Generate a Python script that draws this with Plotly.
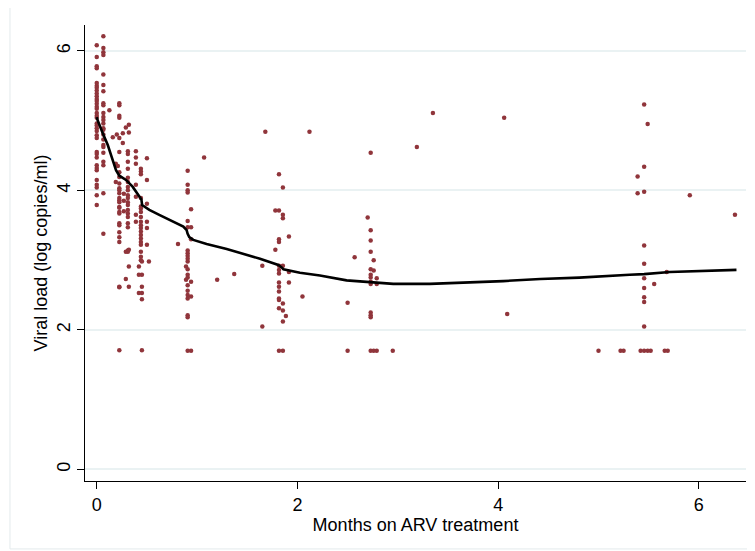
import plotly.graph_objects as go

# ---- scatter data (months, log10 viral load) ----
x_wk0 = [0.0] * 35
y_wk0 = [6.08, 5.91, 5.78, 5.75, 5.54, 5.50, 5.47, 5.43, 5.39, 5.35, 5.31, 5.28,
         5.24, 5.20, 5.17, 5.11, 5.07, 5.04, 4.96, 4.93, 4.89, 4.85, 4.79, 4.75,
         4.55, 4.52, 4.47, 4.36, 4.32, 4.29, 4.15, 4.08, 4.04, 3.93, 3.79]

x_day2 = [0.066] * 24
y_day2 = [6.21, 6.04, 5.98, 5.94, 5.66, 5.51, 5.42, 5.25, 5.22, 5.11, 5.05, 5.01,
          4.96, 4.89, 4.87, 4.80, 4.73, 4.65, 4.62, 4.54, 4.41, 4.36, 3.96, 3.38]

x_early = [0.126, 0.225, 0.225, 0.225, 0.225, 0.16, 0.20, 0.225, 0.26, 0.26, 0.29, 0.32, 0.32,
           0.19, 0.21, 0.19, 0.27, 0.27, 0.27]
y_early = [5.15, 5.25, 5.22, 5.07, 5.04, 4.76, 4.80, 4.75, 4.68, 4.82, 4.90, 4.94, 4.83,
           4.38, 4.35, 4.12, 3.95, 3.85, 3.70]

x_wk1 = [0.225] * 19
y_wk1 = [4.55, 4.26, 4.19, 4.10, 4.03, 4.00, 3.96, 3.89, 3.86, 3.83, 3.76, 3.75,
         3.69, 3.67, 3.53, 3.50, 3.40, 3.33, 3.26]

x_wk1b = [0.31] * 19
y_wk1b = [4.56, 4.52, 4.41, 4.31, 4.18, 4.12, 4.05, 4.00, 3.93, 3.89, 3.83, 3.79,
          3.72, 3.67, 3.62, 3.53, 3.47, 3.14, 3.12]

x_wk2a = [0.39] * 7
y_wk2a = [4.56, 4.47, 4.38, 4.08, 3.91, 3.65, 3.55]

x_wk2 = [0.44] * 19
y_wk2 = [4.31, 4.27, 4.23, 3.89, 3.77, 3.74, 3.69, 3.62, 3.55, 3.50, 3.46, 3.41,
         3.36, 3.31, 3.26, 3.22, 3.12, 3.05, 3.00]

x_wk2b = [0.50, 0.50, 0.50, 0.50, 0.50, 0.50]
y_wk2b = [4.46, 4.15, 3.81, 3.55, 3.46, 3.22]

x_low = [0.225, 0.225, 0.32, 0.29, 0.32, 0.42, 0.42, 0.45, 0.45, 0.42, 0.45, 0.45,
         0.45, 0.45, 0.52, 0.29, 0.32, 0.225]
y_low = [2.62, 1.71, 2.91, 2.73, 2.62, 2.91, 2.79, 2.79, 2.62, 2.53, 2.53, 2.44,
         1.71, 2.98, 2.98, 3.12, 3.15, 2.61]

x_m1 = [0.906, 0.906, 0.906, 0.906, 0.94, 0.906, 0.906, 0.94, 0.94, 0.81, 0.906,
        0.906, 0.906, 0.906, 0.906, 0.89, 0.906, 0.906, 0.906, 0.89, 0.94, 0.906,
        0.906, 0.906, 0.94, 0.906, 0.906, 0.906, 0.906, 0.94, 1.07, 1.20, 1.37]
y_m1 = [4.28, 4.08, 4.00, 3.97, 3.73, 3.56, 3.47, 3.47, 3.30, 3.23, 3.14, 3.10,
        3.06, 3.02, 2.98, 2.91, 2.87, 2.79, 2.75, 2.72, 2.69, 2.64, 2.56, 2.50,
        2.48, 2.45, 2.21, 2.18, 1.70, 1.70, 4.47, 2.72, 2.80]

x_m2 = [1.816, 1.855, 1.78, 1.816, 1.855, 1.855, 1.915, 1.816, 1.816, 1.78, 1.65,
        1.816, 1.855, 1.816, 1.816, 1.915, 1.915, 1.816, 1.816, 2.05, 1.816, 1.816,
        1.816, 1.855, 1.816, 1.855, 1.885, 1.855, 1.65, 1.816, 1.855, 1.68, 2.12]
y_m2 = [4.23, 4.04, 3.71, 3.71, 3.65, 3.60, 3.34, 3.30, 3.26, 3.15, 2.92,
        2.92, 2.92, 2.86, 2.81, 2.83, 2.68, 2.68, 2.62, 2.48, 2.55, 2.45,
        2.43, 2.38, 2.31, 2.28, 2.20, 2.12, 2.05, 1.70, 1.70, 4.84, 4.84]

x_m3 = [2.73, 3.19, 3.35, 4.06, 2.70, 2.73, 2.73, 2.73, 2.57, 2.76, 2.73, 2.76,
        2.73, 2.73, 2.79, 2.73, 2.73, 2.79, 2.50, 2.73, 2.73, 2.73, 4.09,
        2.50, 2.73, 2.76, 2.79, 2.95]
y_m3 = [4.54, 4.62, 5.11, 5.04, 3.61, 3.43, 3.28, 3.12, 3.04, 3.00, 2.87, 2.85,
        2.79, 2.75, 2.74, 2.69, 2.66, 2.66, 2.39, 2.25, 2.21, 2.18, 2.23,
        1.70, 1.70, 1.70, 1.70, 1.70]

x_m6 = [5.455, 5.49, 5.455, 5.39, 5.39, 5.455, 5.91, 6.36, 5.455, 5.455, 5.68,
        5.455, 5.555, 5.455, 5.455, 5.455, 5.455,
        5.00, 5.22, 5.25, 5.42, 5.455, 5.49, 5.52, 5.66, 5.69]
y_m6 = [5.23, 4.95, 4.34, 4.20, 3.96, 3.98, 3.93, 3.65, 3.21, 2.95, 2.83,
        2.74, 2.66, 2.60, 2.47, 2.40, 2.05,
        1.70, 1.70, 1.70, 1.70, 1.70, 1.70, 1.70, 1.70, 1.70]

# ---- smoothed (lowess) curve ----
smooth_x = [0.0, 0.01, 0.06, 0.11, 0.142, 0.192, 0.225, 0.292, 0.359, 0.424, 0.445,
            0.452, 0.524, 0.623, 0.69, 0.78, 0.863, 0.896, 0.905, 0.922, 0.962, 1.095,
            1.228, 1.295, 1.627, 1.81, 1.84, 1.86, 2.025, 2.224, 2.49, 2.72, 2.955,
            3.32, 3.72, 4.05, 4.42, 4.81, 5.31, 5.455, 5.71, 6.375]
smooth_y = [5.05, 5.0, 4.82, 4.65, 4.51, 4.29, 4.21, 4.15, 4.05, 3.91, 3.87,
            3.79, 3.72, 3.65, 3.60, 3.54, 3.48, 3.43, 3.38, 3.33, 3.29, 3.23,
            3.18, 3.16, 3.02, 2.93, 2.90, 2.87, 2.82, 2.78, 2.71, 2.68, 2.66,
            2.66, 2.68, 2.70, 2.73, 2.75, 2.79, 2.80, 2.83, 2.86]

x_ticks = [0, 2, 4, 6]
y_ticks = [0, 2, 4, 6]

all_x = (x_wk0 + x_day2 + x_early + x_wk1 + x_wk1b + x_wk2a + x_wk2 + x_wk2b + x_low
         + x_m1 + x_m2 + x_m3 + x_m6)
all_y = (y_wk0 + y_day2 + y_early + y_wk1 + y_wk1b + y_wk2a + y_wk2 + y_wk2b + y_low
         + y_m1 + y_m2 + y_m3 + y_m6)

FONT = "Liberation Sans, Arial, sans-serif"
MARKER = "#90353B"

fig = go.Figure()
fig.add_trace(go.Scatter(x=all_x, y=all_y, mode="markers",
                         marker=dict(color=MARKER, size=4.5, line=dict(width=0)),
                         showlegend=False, hoverinfo="x+y"))
fig.add_trace(go.Scatter(x=smooth_x, y=smooth_y, mode="lines",
                         line=dict(color="black", width=2.6),
                         showlegend=False))

# page body has an 8px margin: figure is 747x543 so the plot lands where the reference has it
fig.update_layout(
    width=747, height=543,
    margin=dict(l=77, r=9, t=17, b=70, autoexpand=False),
    paper_bgcolor="white", plot_bgcolor="white",
    font=dict(family=FONT, size=18, color="black"),
    xaxis=dict(range=[-0.117, 6.47], tickvals=x_ticks, ticktext=[str(v) for v in x_ticks],
               showgrid=False, zeroline=False, showline=True, linecolor="black", linewidth=1.3,
               ticks="outside", ticklen=7, tickcolor="black", tickwidth=1.3,
               tickfont=dict(size=18), automargin=False,
               title=dict(text="Months on ARV treatment", font=dict(size=18), standoff=0)),
    yaxis=dict(range=[-0.165, 6.37], tickvals=y_ticks, ticktext=[str(v) for v in y_ticks],
               showgrid=True, gridcolor="#EAF2F3", gridwidth=1.5, zeroline=False,
               showline=True, linecolor="black", linewidth=1.3,
               ticks="outside", ticklen=7, tickcolor="black", tickwidth=1.3,
               tickangle=-90, tickfont=dict(size=18), automargin=False,
               title=dict(text="Viral load (log copies/ml)", font=dict(size=18), standoff=1)),
)
fig.add_shape(type="rect", xref="paper", yref="paper",
              x0=-0.1135, x1=1.006, y0=-0.149, y1=1.044,
              line=dict(color="#E3EAEC", width=1), fillcolor="rgba(0,0,0,0)", layer="below")

fig.write_html("out.html")
